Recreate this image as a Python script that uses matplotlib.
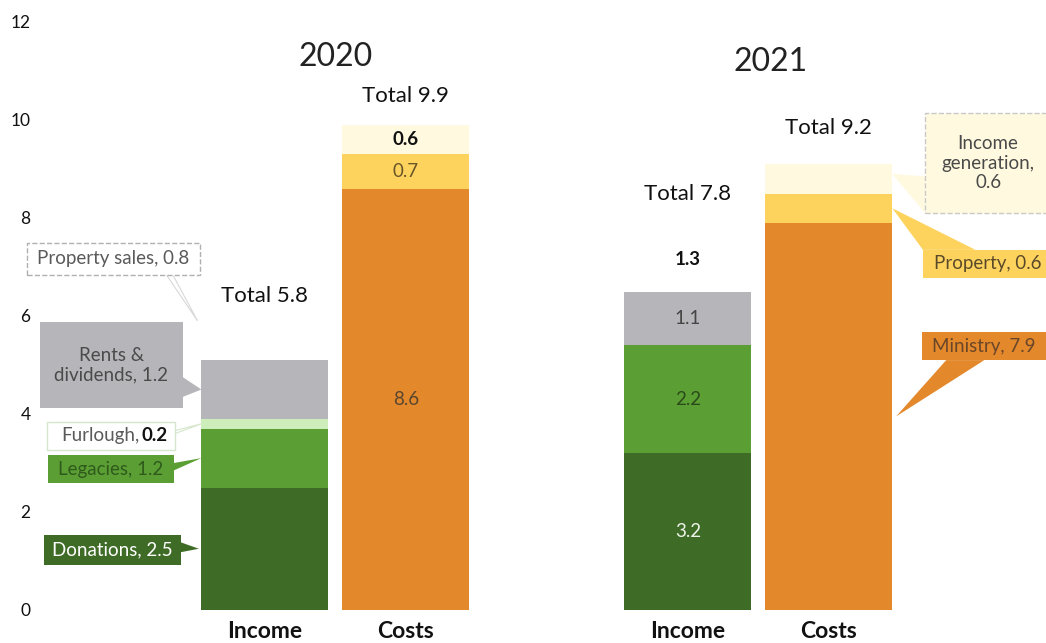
import matplotlib.pyplot as plt
from matplotlib.patches import Rectangle, Polygon

plt.rcParams['font.family'] = ['Lato', 'DejaVu Sans']

# =========================
# Data
# =========================

years = ["2020", "2021"]
bar_names = ["Income", "Costs"]

income_labels = ["Donations", "Legacies", "Furlough", "Rents &\ndividends", "Property sales"]
income_2020 = [2.5, 1.2, 0.2, 1.2, 0.8]
income_2021 = [3.2, 2.2, 0.0, 1.1, 1.3]
income_totals = [5.8, 7.8]

cost_labels = ["Ministry", "Property", "Income\ngeneration"]
costs_2020 = [8.6, 0.7, 0.6]
costs_2021 = [7.9, 0.6, 0.6]
cost_totals = [9.9, 9.2]

yticks = [0, 2, 4, 6, 8, 10, 12]

# =========================
# Style
# =========================

income_colors = ["#3e6c27", "#5b9f34", "#cdeebb", "#b6b5ba", "white"]
cost_colors = ["#e3892b", "#fdd35e", "#fffadf"]

group_centers = [2.31, 5.64]
half_gap = 0.555
bar_w = 1.0
fs_call = 13.5
fs_seg = 13.5

fig = plt.figure(figsize=(10.46, 6.43), dpi=100)
ax = fig.add_axes([0, 33 / 643, 1, 610 / 643])
ax.set_xlim(-42 / 127, 1004 / 127)
ax.set_ylim(0, 610 / 49)

for s in ax.spines.values():
    s.set_visible(False)

ax.set_yticks(yticks)
ax.set_yticklabels([str(v) for v in yticks], fontsize=12.5, color="#111111")
ax.tick_params(axis="y", length=0, pad=-22)

xpos = []
for gc in group_centers:
    xpos += [gc - half_gap, gc + half_gap]
ax.set_xticks(xpos)
ax.set_xticklabels(bar_names * 2, fontsize=16.5, fontweight="bold", color="#111111")
ax.tick_params(axis="x", length=0, pad=8)


def stack(x, values, colors):
    bottom = 0
    mids = []
    for v, c in zip(values, colors):
        ax.bar(x, v, bar_w, bottom=bottom, color=c, edgecolor="none")
        mids.append(bottom + v / 2)
        bottom += v
    return mids, bottom


inc20_mid, inc20_top = stack(xpos[0], income_2020, income_colors)
cst20_mid, cst20_top = stack(xpos[1], costs_2020, cost_colors)
inc21_mid, inc21_top = stack(xpos[2], income_2021, income_colors)
cst21_mid, cst21_top = stack(xpos[3], costs_2021, cost_colors)

# titles
ax.text(group_centers[0], 11.29, years[0], ha="center", va="center", fontsize=23, color="#222222")
ax.text(group_centers[1] + 0.1, 11.18, years[1], ha="center", va="center", fontsize=23, color="#222222")

# totals
tot_offsets = [0.5, 0.6, 0.7, 0.74]
tops = [inc20_top, cst20_top, inc21_top, cst21_top]
tots = [income_totals[0], cost_totals[0], income_totals[1], cost_totals[1]]
for x, top, t, off in zip(xpos, tops, tots, tot_offsets):
    ax.text(x, top + off, f"Total {t}", ha="center", va="center", fontsize=16, color="#111111")

# segment labels inside bars
ax.text(xpos[1], cst20_mid[0], f"{costs_2020[0]}", ha="center", va="center", fontsize=fs_seg, color="#5a4630")
ax.text(xpos[1], cst20_mid[1], f"{costs_2020[1]}", ha="center", va="center", fontsize=fs_seg, color="#6a5528")
ax.text(xpos[1], cst20_mid[2], f"{costs_2020[2]}", ha="center", va="center", fontsize=fs_seg,
        fontweight="bold", color="#111111")

ax.text(xpos[2], inc21_mid[0], f"{income_2021[0]}", ha="center", va="center", fontsize=fs_seg, color="#eef3e8")
ax.text(xpos[2], inc21_mid[1], f"{income_2021[1]}", ha="center", va="center", fontsize=fs_seg, color="#2b4a1a")
ax.text(xpos[2], inc21_mid[3], f"{income_2021[3]}", ha="center", va="center", fontsize=fs_seg, color="#444444")
ax.text(xpos[2], inc21_mid[4], f"{income_2021[4]}", ha="center", va="center", fontsize=fs_seg,
        fontweight="bold", color="#111111")


# =========================
# Callouts
# =========================

def callout(box, base, tip, text, fc, ec="none", ls="-", tc="#444444",
            wedge_ec=None, fs=fs_call, text_x=None, ha="center"):
    x0, y0, x1, y1 = box
    (bx0, by0), (bx1, by1) = base
    wedge = Polygon([(bx0, by0), tip, (bx1, by1)], closed=True, fc=fc,
                    ec=wedge_ec if wedge_ec else "none", lw=0.8, zorder=3, clip_on=False)
    ax.add_patch(wedge)
    rect = Rectangle((x0, y0), x1 - x0, y1 - y0, fc=fc, ec=ec, ls=ls, lw=1.0, zorder=4, clip_on=False)
    ax.add_patch(rect)
    tx = (x0 + x1) / 2 if text_x is None else text_x
    ax.text(tx, (y0 + y1) / 2, text, ha=ha, va="center",
            fontsize=fs, color=tc, zorder=5, linespacing=1.2)


left_edge20 = xpos[0] - bar_w / 2
right_edge21 = xpos[3] + bar_w / 2

# 2020 income
callout((-0.118, 6.84, 1.244, 7.49), ((0.98, 6.84), (1.03, 6.84)),
        (left_edge20 - 0.03, inc20_mid[4] + 0.4), f"Property sales, {income_2020[4]}",
        "white", ec="#b0b0b0", ls="--", tc="#5a5a5a", wedge_ec="#d8d8d8")
callout((-0.016, 4.12, 1.110, 5.88), ((1.110, 4.35), (1.110, 4.75)),
        (left_edge20, inc20_mid[3]), f"Rents &\ndividends, {income_2020[3]}",
        income_colors[3], tc="#4a4a4a")
callout((0.039, 3.27, 1.047, 3.84), ((1.047, 3.60), (1.047, 3.66)),
        (left_edge20, inc20_mid[2]), "", "white", ec="#d5e6cc", wedge_ec="#d5e6cc")
ax.text(0.764, (3.27 + 3.84) / 2, "Furlough,", ha="right", va="center", fontsize=fs_call,
        color="#5a5a5a", zorder=5)
ax.text(0.787, (3.27 + 3.84) / 2, f"{income_2020[2]}", ha="left", va="center", fontsize=fs_call,
        fontweight="bold", color="#111111", zorder=5)
callout((0.047, 2.59, 1.039, 3.16), ((1.039, 2.85), (1.039, 3.0)),
        (left_edge20, inc20_mid[1]), f"Legacies, {income_2020[1]}",
        income_colors[1], tc="#2f5a1c")
callout((0.016, 0.92, 1.094, 1.53), ((1.094, 1.18), (1.094, 1.38)),
        (left_edge20 - 0.02, inc20_mid[0]), f"Donations, {income_2020[0]}",
        income_colors[0], tc="white")

# 2021 costs
callout((6.953, 8.10, 8.2, 10.14), ((6.953, 8.10), (6.953, 8.85)),
        (right_edge21, cst21_mid[2] + 0.1), f"Income\ngeneration,\n{costs_2021[2]}",
        cost_colors[2], ec="#c8c8c8", ls="--", tc="#4a4a4a", text_x=7.45)
callout((6.937, 6.78, 8.2, 7.35), ((6.937, 7.35), (7.35, 7.35)),
        (right_edge21, cst21_mid[1]), f"Property, {costs_2021[1]}",
        cost_colors[1], tc="#5a4a2a", text_x=7.02, ha="left")
callout((6.929, 5.10, 8.2, 5.67), ((7.12, 5.10), (7.42, 5.10)),
        (right_edge21 + 0.03, cst21_mid[0]), f"Ministry, {costs_2021[0]}",
        cost_colors[0], tc="#6a4628", text_x=7.01, ha="left")

fig.savefig("out.png", dpi=100)
